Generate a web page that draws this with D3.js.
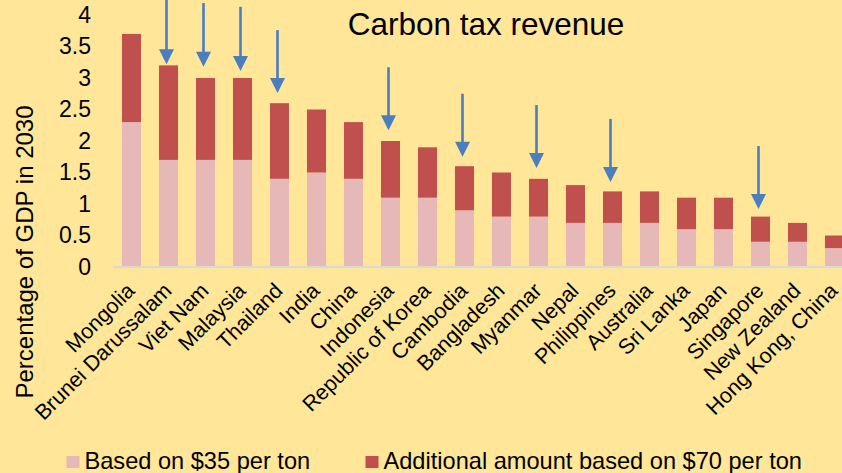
<!DOCTYPE html>
<html>
<head>
<meta charset="utf-8">
<script src="https://cdn.jsdelivr.net/npm/d3@7/dist/d3.min.js"></script>
<style>
  html, body { margin: 0; padding: 0; background: #FFE699; overflow: hidden; }
  svg { display: block; font-family: "Liberation Sans", Arial, sans-serif; }
</style>
</head>
<body>
<svg id="chart" width="842" height="473"></svg>
<script>
// ---- data ----
const categories = ["Mongolia", "Brunei Darussalam", "Viet Nam", "Malaysia", "Thailand", "India", "China",
  "Indonesia", "Republic of Korea", "Cambodia", "Bangladesh", "Myanmar", "Nepal", "Philippines",
  "Australia", "Sri Lanka", "Japan", "Singapore", "New Zealand", "Hong Kong, China"];
const base35 = [2.3, 1.7, 1.7, 1.7, 1.4, 1.5, 1.4, 1.1, 1.1, 0.9, 0.8, 0.8, 0.7, 0.7, 0.7, 0.6, 0.6, 0.4, 0.4, 0.3];
const total70 = [3.7, 3.2, 3.0, 3.0, 2.6, 2.5, 2.3, 2.0, 1.9, 1.6, 1.5, 1.4, 1.3, 1.2, 1.2, 1.1, 1.1, 0.8, 0.7, 0.5];
const additional70 = total70.map((t, i) => +(t - base35[i]).toFixed(2));
const yTicks = [0, 0.5, 1, 1.5, 2, 2.5, 3, 3.5, 4];
const seriesNames = ["Based on $35 per ton", "Additional amount based on $70 per ton"];
const title = "Carbon tax revenue";
const yTitle = "Percentage of GDP in 2030";
// annotation arrows (tip and tail in axis units)
const arrowCats = ["Brunei Darussalam", "Viet Nam", "Malaysia", "Thailand", "Indonesia", "Cambodia", "Myanmar", "Philippines", "Singapore"];
const arrowTip  = [3.22, 3.18, 3.11, 2.76, 2.17, 1.75, 1.57, 1.35, 0.92];
const arrowTail = [4.26, 4.19, 4.13, 3.76, 3.17, 2.75, 2.57, 2.35, 1.92];

// ---- layout ----
const colors = ["#E6B9B8", "#C0504D"];
const arrowColor = "#4A7EBF";
const svg = d3.select("#chart");

const x = d3.scaleBand().domain(categories).range([113, 853]).paddingInner(0.486).paddingOuter(0.243);
const y = d3.scaleLinear().domain([0, 4]).range([267, 15]);

// stacked data
const rows = categories.map((c, i) => ({ cat: c, base: base35[i], add: additional70[i] }));
const stack = d3.stack().keys(["base", "add"])(rows);

svg.append("g").selectAll("g").data(stack).join("g")
  .attr("fill", (d, i) => colors[i])
  .selectAll("rect").data(d => d).join("rect")
  .attr("x", d => x(d.data.cat))
  .attr("width", x.bandwidth())
  .attr("y", d => y(d[1]))
  .attr("height", d => y(d[0]) - y(d[1]));

// baseline
svg.append("line")
  .attr("x1", x.range()[0]).attr("x2", 842)
  .attr("y1", y(0)).attr("y2", y(0))
  .attr("stroke", "#D9D9D9").attr("stroke-width", 2);

// y axis labels
const yAxis = d3.axisLeft(y).tickValues(yTicks).tickSize(0).tickPadding(0).tickFormat(d3.format("~g"));
const gy = svg.append("g").attr("transform", "translate(91,0)").call(yAxis);
gy.select(".domain").remove();
gy.selectAll("text").attr("font-size", 23).attr("fill", "#000").attr("font-family", "Liberation Sans, Arial, sans-serif");

// x axis labels
const xAxis = d3.axisBottom(x).tickSize(0).tickPadding(0);
const gx = svg.append("g").call(xAxis);
gx.select(".domain").remove();
gx.selectAll(".tick").attr("transform", d => `translate(${x(d) + x.bandwidth() / 2 + 4.5},292)`);
gx.selectAll("text")
  .attr("y", 0).attr("dy", 0)
  .attr("text-anchor", "end")
  .attr("transform", "rotate(-45)")
  .attr("font-size", 21.5).attr("fill", "#000")
  .attr("font-family", "Liberation Sans, Arial, sans-serif");

// title
svg.append("text").attr("x", 486).attr("y", 34.5).attr("text-anchor", "middle")
  .attr("font-size", 31.5).attr("fill", "#000").text(title);

// y title
svg.append("text").attr("transform", "translate(33,252) rotate(-90)")
  .attr("text-anchor", "middle").attr("font-size", 24).attr("fill", "#000").text(yTitle);

// arrows
const ag = svg.append("g");
arrowCats.forEach((c, i) => {
  const cx = x(c) + x.bandwidth() / 2 - 2;
  const tip = y(arrowTip[i]);
  const tail = y(arrowTail[i]);
  ag.append("line").attr("x1", cx).attr("x2", cx).attr("y1", tail).attr("y2", tip - 12)
    .attr("stroke", arrowColor).attr("stroke-width", 2.6);
  ag.append("path")
    .attr("d", `M${cx - 7.5},${tip - 15} L${cx + 7.5},${tip - 15} L${cx},${tip} Z`)
    .attr("fill", arrowColor);
});

// legend
const legendX = [66.5, 365.5];
const lg = svg.append("g");
seriesNames.forEach((name, i) => {
  lg.append("rect").attr("x", legendX[i]).attr("y", 456).attr("width", 13).attr("height", 12).attr("fill", colors[i]);
  lg.append("text").attr("x", legendX[i] + 18).attr("y", 469).attr("font-size", 23.6).attr("fill", "#000").text(name);
});
</script>
</body>
</html>
